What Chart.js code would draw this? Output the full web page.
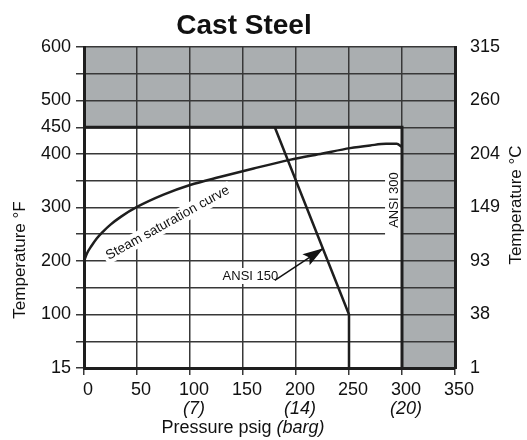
<!DOCTYPE html>
<html><head><meta charset="utf-8">
<script src="https://cdn.jsdelivr.net/npm/chart.js@4/dist/chart.umd.min.js"></script>
<style>html,body{margin:0;padding:0;background:#fff}#wrap{width:527px;height:440px}</style>
</head><body><div id="wrap"><canvas id="c" width="527" height="440"></canvas></div>
<script>
const chartTitle = 'Cast Steel';
const satPressure = [0, 3, 7, 12, 18, 25, 35, 50, 75, 100, 128, 160, 194, 225, 251, 270, 285, 295, 300];
const satTemp =     [200, 215, 228, 242, 255, 268, 283, 301, 324, 342, 357, 373, 389, 401, 411, 416, 419, 419, 413];
const ansi150Pressure = [180, 250, 250];
const ansi150Temp = [450, 100, 0];
const limitPressure = [0, 300, 300];
const limitTemp = [450, 450, 0];
const topZonePressure = [0, 350];
const topZoneTemp = [450, 450];
const topZoneTo = 600;
const rightZonePressure = [300, 350];
const rightZoneTemp = [600, 600];
const rightZoneTo = 0;
const arrowPressure = [180, 226];
const arrowTemp = [164, 224];
const bargValues = [100, 200, 300];
const bargLabels = ['(7)', '(14)', '(20)'];
const leftTickValues = [0, 100, 200, 300, 400, 450, 500, 600];
const leftTickLabels = ['15', '100', '200', '300', '400', '450', '500', '600'];
const rightTickValues = [0, 100, 200, 300, 400, 500, 600];
const rightTickLabels = ['1', '38', '93', '149', '204', '260', '315'];
const labelSteam = {text: 'Steam saturation curve', x: 79, y: 271, angle: -29};
const labelAnsi300 = {text: 'ANSI 300', x: 292.5, y: 314};
const labelAnsi150 = {text: 'ANSI 150', x: 157, y: 172};

const FONT = "'Liberation Sans', Arial, Helvetica, sans-serif";
const pts = (xs, ys) => xs.map((x, i) => ({x, y: ys[i]}));
const GRID = '#383838', INK = '#1e1e1e', GRAY = '#aaaeb0';

const annot = {
  id: 'annot',
  beforeDatasetsDraw(chart) {
    const {ctx, scales: {x, y}} = chart;
    ctx.save();
    let px = x.getPixelForValue(labelSteam.x), py = y.getPixelForValue(labelSteam.y);
    ctx.font = '13.5px ' + FONT;
    ctx.translate(px, py); ctx.rotate(labelSteam.angle * Math.PI / 180);
    let w = ctx.measureText(labelSteam.text).width;
    ctx.fillStyle = '#fff'; ctx.fillRect(-w / 2 - 3, -8, w + 6, 16);
    ctx.fillStyle = '#111'; ctx.textAlign = 'center'; ctx.textBaseline = 'middle';
    ctx.fillText(labelSteam.text, 0, 0);
    ctx.restore();
    ctx.save();
    px = x.getPixelForValue(labelAnsi300.x); py = y.getPixelForValue(labelAnsi300.y);
    ctx.font = '13px ' + FONT;
    ctx.translate(px, py); ctx.rotate(-Math.PI / 2);
    ctx.fillStyle = '#fff'; ctx.fillRect(-35, -9, 70, 18);
    ctx.fillStyle = '#111'; ctx.textAlign = 'center'; ctx.textBaseline = 'middle';
    ctx.fillText(labelAnsi300.text, 0, 0);
    ctx.restore();
    ctx.save();
    px = x.getPixelForValue(labelAnsi150.x); py = y.getPixelForValue(labelAnsi150.y);
    ctx.font = '13px ' + FONT;
    w = ctx.measureText(labelAnsi150.text).width;
    ctx.fillStyle = '#fff'; ctx.fillRect(px - w / 2 - 2, py - 8, w + 4, 16);
    ctx.fillStyle = '#111'; ctx.textAlign = 'center'; ctx.textBaseline = 'middle';
    ctx.fillText(labelAnsi150.text, px, py);
    ctx.restore();
  },
  afterDatasetsDraw(chart) {
    const {ctx, scales: {x, y}} = chart;
    const x0 = x.getPixelForValue(arrowPressure[0]), y0 = y.getPixelForValue(arrowTemp[0]);
    const x1 = x.getPixelForValue(arrowPressure[1]), y1 = y.getPixelForValue(arrowTemp[1]);
    const a = Math.atan2(y1 - y0, x1 - x0);
    ctx.save();
    ctx.translate(x1, y1); ctx.rotate(a);
    ctx.fillStyle = '#111';
    ctx.beginPath(); ctx.moveTo(0, 0); ctx.lineTo(-21, -6.5); ctx.lineTo(-17, 0); ctx.lineTo(-21, 6.5); ctx.closePath(); ctx.fill();
    ctx.restore();
  },
  afterDraw(chart) {
    const {ctx, scales: {x, y}} = chart;
    ctx.save();
    ctx.fillStyle = '#111';
    ctx.textAlign = 'center'; ctx.textBaseline = 'alphabetic';
    ctx.font = 'bold 28px ' + FONT;
    ctx.fillText(chartTitle, 244, 34);
    ctx.font = 'italic 18px ' + FONT;
    ctx.textBaseline = 'middle';
    bargValues.forEach((v, i) => ctx.fillText(bargLabels[i], x.getPixelForValue(v) + 4, 409));
    ctx.textBaseline = 'alphabetic';
    ctx.font = '18px ' + FONT;
    const p1 = 'Pressure psig ', p2 = '(barg)';
    const w1 = ctx.measureText(p1).width;
    ctx.font = 'italic 18px ' + FONT;
    const w2 = ctx.measureText(p2).width;
    const sx = 243 - (w1 + w2) / 2;
    ctx.textAlign = 'left';
    ctx.font = '18px ' + FONT; ctx.fillText(p1, sx, 433);
    ctx.font = 'italic 18px ' + FONT; ctx.fillText(p2, sx + w1, 433);
    ctx.font = '17px ' + FONT; ctx.textAlign = 'center'; ctx.textBaseline = 'middle';
    ctx.save(); ctx.translate(20, 260); ctx.rotate(-Math.PI / 2); ctx.fillText('Temperature °F', 0, 0); ctx.restore();
    ctx.save(); ctx.translate(516, 205); ctx.rotate(-Math.PI / 2); ctx.fillText('Temperature °C', 0, 0); ctx.restore();
    ctx.restore();
  }
};

new Chart(document.getElementById('c'), {
  type: 'line',
  data: {
    datasets: [
      {data: pts(topZonePressure, topZoneTemp), fill: {value: topZoneTo}, backgroundColor: GRAY, borderColor: 'rgba(0,0,0,0)', pointRadius: 0},
      {data: pts(rightZonePressure, rightZoneTemp), fill: {value: rightZoneTo}, backgroundColor: GRAY, borderColor: 'rgba(0,0,0,0)', pointRadius: 0},
      {data: pts(satPressure, satTemp), borderColor: INK, borderWidth: 2.5, pointRadius: 0, cubicInterpolationMode: 'monotone', fill: false},
      {data: pts(ansi150Pressure, ansi150Temp), borderColor: INK, borderWidth: 2.5, pointRadius: 0, tension: 0, fill: false},
      {data: pts(limitPressure, limitTemp), borderColor: INK, borderWidth: 3, pointRadius: 0, tension: 0, fill: false},
      {data: pts(arrowPressure, arrowTemp), borderColor: '#111', borderWidth: 1.5, pointRadius: 0, tension: 0, fill: false}
    ]
  },
  options: {
    responsive: false, animation: false, devicePixelRatio: 1,
    layout: {padding: {top: 47, left: 0, right: 0, bottom: 0}},
    plugins: {legend: {display: false}, title: {display: false}, tooltip: {enabled: false}, filler: {drawTime: 'beforeDraw'}},
    scales: {
      x: {
        type: 'linear', position: 'bottom', min: 0, max: 350,
        ticks: {stepSize: 50, autoSkip: false, maxRotation: 0, padding: 4, labelOffset: 4, color: '#111', font: {family: FONT, size: 18}},
        grid: {color: GRID, lineWidth: 1.5, tickLength: 7, tickColor: GRID},
        border: {color: INK, width: 3},
        afterFit: s => { s.height = 72; }
      },
      y: {
        type: 'linear', position: 'left', min: 0, max: 600,
        ticks: {stepSize: 50, autoSkip: false, padding: 5, color: '#111', font: {family: FONT, size: 18},
          callback: v => { const i = leftTickValues.indexOf(v); return i >= 0 ? leftTickLabels[i] : ''; }},
        grid: {color: GRID, lineWidth: 1.5, tickLength: 8, tickColor: GRID},
        border: {color: INK, width: 3},
        afterFit: s => { s.width = 84; }
      },
      y2: {
        type: 'linear', position: 'right', min: 0, max: 600,
        ticks: {stepSize: 100, autoSkip: false, padding: 15, color: '#111', font: {family: FONT, size: 18},
          callback: v => { const i = rightTickValues.indexOf(v); return i >= 0 ? rightTickLabels[i] : ''; }},
        grid: {drawOnChartArea: false, drawTicks: false},
        border: {color: INK, width: 3},
        afterFit: s => { s.width = 72; }
      }
    }
  },
  plugins: [annot]
});
</script>
</body></html>
